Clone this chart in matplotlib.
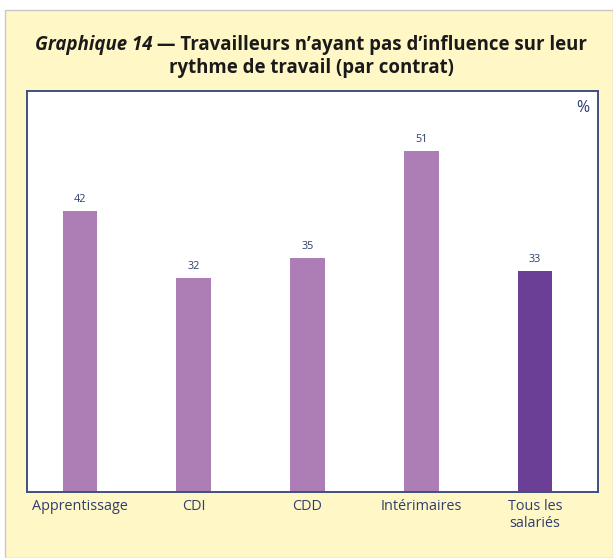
import numpy as np
import matplotlib.pyplot as plt
from matplotlib.patches import Rectangle

plt.rcParams['font.family'] = ['Open Sans', 'DejaVu Sans']

categories = ['Apprentissage', 'CDI', 'CDD', 'Intérimaires', 'Tous les\nsalariés']
values = [42, 32, 35, 51, 33]
bar_colors = ['#AD7DB5', '#AD7DB5', '#AD7DB5', '#AD7DB5', '#6B3F96']

text_blue = '#2E3F6E'
frame_col = '#3F4F80'
bg_yellow = '#FFF7C6'

W, H = 613, 558
fig = plt.figure(figsize=(W / 100, H / 100), dpi=100)
fig.patch.set_facecolor('white')

# yellow panel behind everything
fig.patches.append(Rectangle((5 / W, 0), 1 - 5 / W, 1 - 10 / H, transform=fig.transFigure,
                             facecolor=bg_yellow, edgecolor='#C8C8C8', linewidth=1.0, zorder=-10))

ax = fig.add_axes([27 / W, 1 - 492 / H, (598 - 27) / W, (492 - 91) / H])
ax.set_facecolor('white')

x = np.arange(len(categories))
ax.bar(x, values, width=0.307, color=bar_colors, zorder=2)
for xi, v in zip(x, values):
    ax.text(xi, v + 0.9, str(v), ha='center', va='bottom', fontsize=7.8, color=text_blue)

ax.set_xlim(-0.466, 4.554)
ax.set_ylim(0, 60)
ax.set_yticks([])
ax.set_xticks(x)
ax.set_xticklabels(categories, fontsize=10.4, color=text_blue, linespacing=1.15)
ax.tick_params(axis='x', length=0, pad=5)
for s in ax.spines.values():
    s.set_color(frame_col)
    s.set_linewidth(1.4)

ax.text(0.985, 0.978, '%', transform=ax.transAxes, ha='right', va='top',
        fontsize=11.5, color=text_blue)

# title: italic part + bold part on first line, centred together
size = 13.4
fig.canvas.draw()
r = fig.canvas.get_renderer()
y1 = 1 - 45 / H
t1 = fig.text(0, y1, 'Graphique 14', fontsize=size, style='italic', weight='bold',
              va='center', color='#1A1A1A')
t2 = fig.text(0, y1, ' — Travailleurs n’ayant pas d’influence sur leur', fontsize=size,
              weight='bold', va='center', color='#1A1A1A')
w1 = t1.get_window_extent(r).width
w2 = t2.get_window_extent(r).width
cx = 311
start = cx - (w1 + w2) / 2
t1.set_x(start / W)
t2.set_x((start + w1) / W)
fig.text(cx / W, 1 - 68 / H, 'rythme de travail (par contrat)', fontsize=size, weight='bold',
         ha='center', va='center', color='#1A1A1A')

fig.savefig('out.png', dpi=100, facecolor=fig.get_facecolor())
